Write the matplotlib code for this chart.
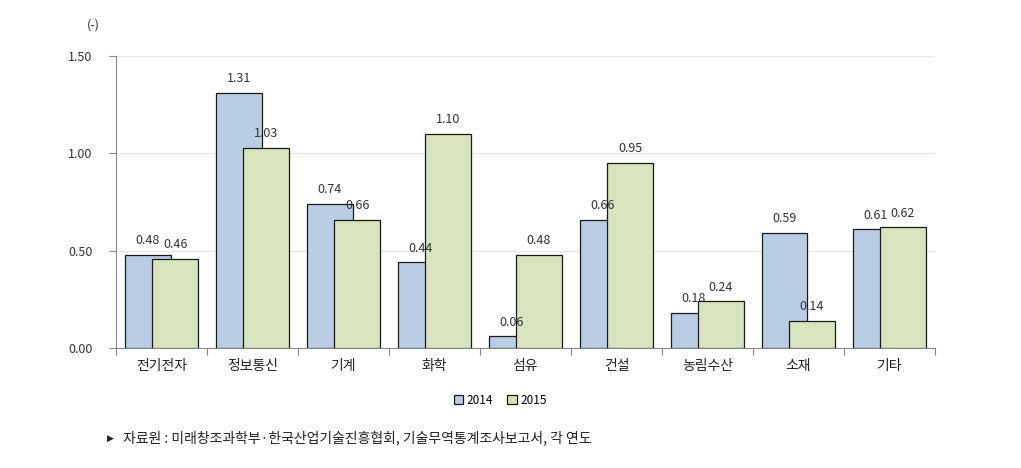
import matplotlib.pyplot as plt
import numpy as np

plt.rcParams['font.family'] = ['Noto Sans CJK KR', 'DejaVu Sans']

categories = ['전기전자', '정보통신', '기계', '화학', '섬유', '건설', '농림수산', '소재', '기타']
v2014 = [0.48, 1.31, 0.74, 0.44, 0.06, 0.66, 0.18, 0.59, 0.61]
v2015 = [0.46, 1.03, 0.66, 1.10, 0.48, 0.95, 0.24, 0.14, 0.62]
yticks = [0.0, 0.5, 1.0, 1.5]

fig = plt.figure(figsize=(10.21, 4.68), dpi=100)
ax = fig.add_axes([0.1136, 0.2564, 0.802, 0.6236])

x = np.arange(len(categories))
w = 0.5
off = 0.15
b1 = ax.bar(x - off, v2014, w, color='#B9CDE5', edgecolor='#1a1a1a', linewidth=0.9, label='2014', zorder=2)
b2 = ax.bar(x + off, v2015, w, color='#D7E4BD', edgecolor='#1a1a1a', linewidth=0.9, label='2015', zorder=3)

for xi, v in zip(x, v2014):
    ax.text(xi - off, v + 0.04, f'{v:.2f}', ha='center', va='bottom', fontsize=9, color='#333333', zorder=4)
for xi, v in zip(x, v2015):
    ax.text(xi + off, v + 0.04, f'{v:.2f}', ha='center', va='bottom', fontsize=9, color='#333333', zorder=4)

ax.set_xlim(-0.5, len(categories) - 0.5)
ax.set_ylim(0, 1.5)
ax.set_yticks(yticks)
ax.set_yticklabels([f'{t:.2f}' for t in yticks], fontsize=9, color='#333333')
ax.set_xticks(np.arange(-0.5, len(categories), 1.0))
ax.set_xticklabels([])
ax.set_xticks(x, minor=True)
ax.set_xticklabels(categories, minor=True, fontsize=10, color='#222222')
ax.tick_params(axis='x', which='minor', length=0, pad=8)
ax.tick_params(axis='x', which='major', length=5, color='#888888', direction='out')
ax.tick_params(axis='y', length=5, color='#888888', pad=12)

ax.grid(axis='y', color='#e6e6e6', linewidth=0.8, zorder=0)
for s in ['top', 'right']:
    ax.spines[s].set_visible(False)
ax.spines['left'].set_color('#888888')
ax.spines['bottom'].set_color('#888888')

fig.text(0.085, 0.94, '(-)', fontsize=9, color='#333333')

fig.legend(handles=[b1, b2], loc='center', bbox_to_anchor=(0.49, 0.145), ncol=2, frameon=False,
           fontsize=8.5, handlelength=0.8, handleheight=0.8, handletextpad=0.3, columnspacing=1.2)

fig.text(0.105, 0.058, '▶', fontsize=6.5, color='#222222', family=['DejaVu Sans'])
fig.text(0.12, 0.055, '자료원 : 미래창조과학부·한국산업기술진흥협회, 기술무역통계조사보고서, 각 연도',
         fontsize=10, color='#222222')

fig.savefig('out.png', dpi=100)
